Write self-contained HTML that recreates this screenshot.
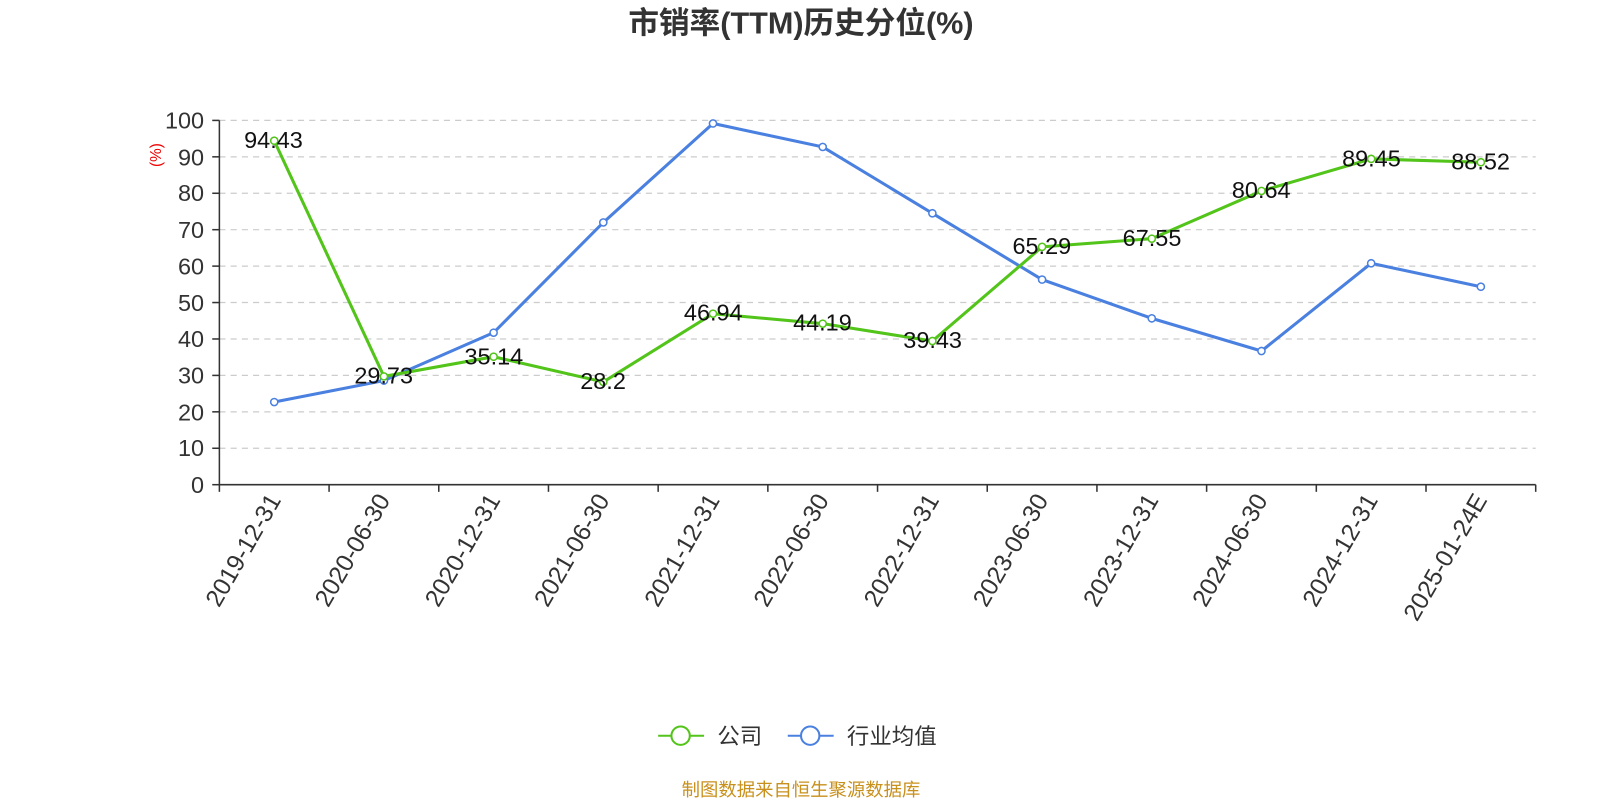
<!DOCTYPE html>
<html><head><meta charset="utf-8"><style>
html,body{margin:0;padding:0;background:#fff;}
svg text{font-family:"Liberation Sans","Noto Sans CJK SC",sans-serif;}
</style></head><body>
<svg width="1600" height="800" xmlns="http://www.w3.org/2000/svg">
<g transform="scale(1.0204)">
<text x="785" y="33" text-anchor="middle" font-size="30" font-weight="bold" fill="#333">市销率(TTM)历史分位(%)</text>
<g stroke="#ccc" stroke-dasharray="6,5" stroke-width="1.2">
<line x1="215" x2="1505" y1="118" y2="118"/><line x1="215" x2="1505" y1="153.7" y2="153.7"/>
<line x1="215" x2="1505" y1="189.4" y2="189.4"/><line x1="215" x2="1505" y1="225.1" y2="225.1"/>
<line x1="215" x2="1505" y1="260.8" y2="260.8"/><line x1="215" x2="1505" y1="296.5" y2="296.5"/>
<line x1="215" x2="1505" y1="332.2" y2="332.2"/><line x1="215" x2="1505" y1="367.9" y2="367.9"/>
<line x1="215" x2="1505" y1="403.6" y2="403.6"/><line x1="215" x2="1505" y1="439.3" y2="439.3"/>
</g>
<g stroke="#333" stroke-width="1.5">
<line x1="215" x2="215" y1="118" y2="475"/><line x1="215" x2="1505" y1="475" y2="475"/>
<line x1="208" x2="215" y1="118" y2="118"/><line x1="208" x2="215" y1="153.7" y2="153.7"/><line x1="208" x2="215" y1="189.4" y2="189.4"/><line x1="208" x2="215" y1="225.1" y2="225.1"/><line x1="208" x2="215" y1="260.8" y2="260.8"/><line x1="208" x2="215" y1="296.5" y2="296.5"/><line x1="208" x2="215" y1="332.2" y2="332.2"/><line x1="208" x2="215" y1="367.9" y2="367.9"/><line x1="208" x2="215" y1="403.6" y2="403.6"/><line x1="208" x2="215" y1="439.3" y2="439.3"/><line x1="208" x2="215" y1="475" y2="475"/>
<line x1="215" x2="215" y1="475" y2="482"/><line x1="322.5" x2="322.5" y1="475" y2="482"/><line x1="430" x2="430" y1="475" y2="482"/><line x1="537.5" x2="537.5" y1="475" y2="482"/><line x1="645" x2="645" y1="475" y2="482"/><line x1="752.5" x2="752.5" y1="475" y2="482"/><line x1="860" x2="860" y1="475" y2="482"/><line x1="967.5" x2="967.5" y1="475" y2="482"/><line x1="1075" x2="1075" y1="475" y2="482"/><line x1="1182.5" x2="1182.5" y1="475" y2="482"/><line x1="1290" x2="1290" y1="475" y2="482"/><line x1="1397.5" x2="1397.5" y1="475" y2="482"/><line x1="1505" x2="1505" y1="475" y2="482"/>
</g>
<g font-size="23" fill="#333" text-anchor="end">
<text x="200" y="126">100</text><text x="200" y="162">90</text><text x="200" y="197">80</text><text x="200" y="233">70</text><text x="200" y="269">60</text><text x="200" y="305">50</text><text x="200" y="340">40</text><text x="200" y="376">30</text><text x="200" y="412">20</text><text x="200" y="447">10</text><text x="200" y="483">0</text>
</g>
<text transform="translate(158,152) rotate(-90)" font-size="15" fill="#e00" text-anchor="middle">(%)</text>
<g font-size="24" fill="#333" text-anchor="end">
<text transform="translate(276,490) rotate(-60)">2019-12-31</text>
<text transform="translate(383,490) rotate(-60)">2020-06-30</text>
<text transform="translate(491,490) rotate(-60)">2020-12-31</text>
<text transform="translate(598,490) rotate(-60)">2021-06-30</text>
<text transform="translate(706,490) rotate(-60)">2021-12-31</text>
<text transform="translate(813,490) rotate(-60)">2022-06-30</text>
<text transform="translate(921,490) rotate(-60)">2022-12-31</text>
<text transform="translate(1028,490) rotate(-60)">2023-06-30</text>
<text transform="translate(1136,490) rotate(-60)">2023-12-31</text>
<text transform="translate(1243,490) rotate(-60)">2024-06-30</text>
<text transform="translate(1351,490) rotate(-60)">2024-12-31</text>
<text transform="translate(1458,490) rotate(-60)">2025-01-24E</text>
</g>
<polyline fill="none" stroke="#4a80e0" stroke-width="3" points="268.75,394 376.25,373 483.75,326 591.25,218 698.75,121 806.25,144 913.75,209 1021.25,274 1128.75,312 1236.25,344 1343.75,258 1451.25,281"/>
<g fill="#fff" stroke="#4a80e0" stroke-width="1.5">
<circle cx="268.75" cy="394" r="3.5"/><circle cx="376.25" cy="373" r="3.5"/><circle cx="483.75" cy="326" r="3.5"/><circle cx="591.25" cy="218" r="3.5"/><circle cx="698.75" cy="121" r="3.5"/><circle cx="806.25" cy="144" r="3.5"/><circle cx="913.75" cy="209" r="3.5"/><circle cx="1021.25" cy="274" r="3.5"/><circle cx="1128.75" cy="312" r="3.5"/><circle cx="1236.25" cy="344" r="3.5"/><circle cx="1343.75" cy="258" r="3.5"/><circle cx="1451.25" cy="281" r="3.5"/>
</g>
<polyline fill="none" stroke="#52c41a" stroke-width="3" points="268.75,137.9 376.25,368.9 483.75,349.6 591.25,374.3 698.75,307.4 806.25,317.2 913.75,334.2 1021.25,241.9 1128.75,233.9 1236.25,187.1 1343.75,155.7 1451.25,159"/>
<g fill="#fff" stroke="#52c41a" stroke-width="1.5">
<circle cx="268.75" cy="137.9" r="3.5"/><circle cx="376.25" cy="368.9" r="3.5"/><circle cx="483.75" cy="349.6" r="3.5"/><circle cx="591.25" cy="374.3" r="3.5"/><circle cx="698.75" cy="307.4" r="3.5"/><circle cx="806.25" cy="317.2" r="3.5"/><circle cx="913.75" cy="334.2" r="3.5"/><circle cx="1021.25" cy="241.9" r="3.5"/><circle cx="1128.75" cy="233.9" r="3.5"/><circle cx="1236.25" cy="187.1" r="3.5"/><circle cx="1343.75" cy="155.7" r="3.5"/><circle cx="1451.25" cy="159" r="3.5"/>
</g>
<g font-size="23" fill="#111" text-anchor="middle">
<text x="268" y="145">94.43</text><text x="376" y="376">29.73</text><text x="484" y="357">35.14</text><text x="591" y="381">28.2</text><text x="699" y="314">46.94</text><text x="806" y="324">44.19</text><text x="914" y="341">39.43</text><text x="1021" y="249">65.29</text><text x="1129" y="241">67.55</text><text x="1236" y="194">80.64</text><text x="1344" y="163">89.45</text><text x="1451" y="166">88.52</text>
</g>
<line x1="645" x2="690" y1="721" y2="721" stroke="#52c41a" stroke-width="2"/>
<circle cx="667" cy="721" r="9" fill="#fff" stroke="#52c41a" stroke-width="2"/>
<text x="703" y="729" font-size="22" fill="#333">公司</text>
<line x1="772" x2="817" y1="721" y2="721" stroke="#4a80e0" stroke-width="2"/>
<circle cx="794" cy="721" r="9" fill="#fff" stroke="#4a80e0" stroke-width="2"/>
<text x="830" y="729" font-size="22" fill="#333">行业均值</text>
<text x="785" y="780" text-anchor="middle" font-size="18" fill="#c8901c">制图数据来自恒生聚源数据库</text>
</g>
</svg>
</body></html>
